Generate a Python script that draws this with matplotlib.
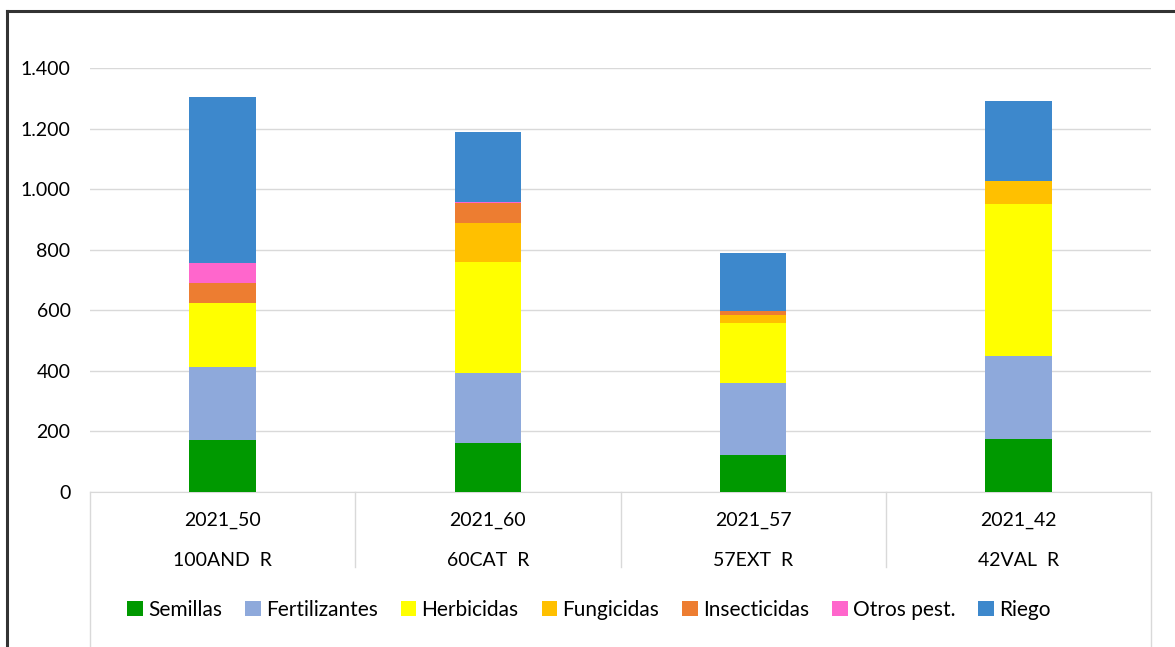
import matplotlib.pyplot as plt
import matplotlib.transforms as mtransforms
import numpy as np
from matplotlib.lines import Line2D
from matplotlib.ticker import FuncFormatter

plt.rcParams['font.family'] = ['Lato', 'DejaVu Sans']

# data
years = ["2021_50", "2021_60", "2021_57", "2021_42"]
regions = ["100AND  R", "60CAT  R", "57EXT  R", "42VAL  R"]
semillas = [172, 161, 122, 175]
fertilizantes = [240, 231, 239, 275]
herbicidas = [211, 368, 196, 501]
fungicidas = [0, 127, 27, 77]
insecticidas = [66, 66, 14, 0]
otros = [66, 5, 0, 0]
riego = [550, 232, 192, 264]

series = [
    ("Semillas", semillas, "#009900"),
    ("Fertilizantes", fertilizantes, "#8EA9DB"),
    ("Herbicidas", herbicidas, "#FFFF00"),
    ("Fungicidas", fungicidas, "#FFC000"),
    ("Insecticidas", insecticidas, "#ED7D31"),
    ("Otros pest.", otros, "#FF66CC"),
    ("Riego", riego, "#3D88CC"),
]

W, H = 1175, 647
fig = plt.figure(figsize=(W / 100, H / 100), dpi=100)
ax = fig.add_axes([90 / W, 1 - 492 / H, (1151 - 90) / W, (492 - 68) / H])

x = np.arange(len(years))
bottom = np.zeros(len(years))
for name, vals, col in series:
    ax.bar(x, vals, 0.25, bottom=bottom, color=col, label=name, zorder=3)
    bottom += np.array(vals)

ax.set_xlim(-0.5, 3.5)
ax.set_ylim(0, 1400)
ax.set_yticks(range(0, 1401, 200))
ax.yaxis.set_major_formatter(FuncFormatter(lambda v, p: f"{int(v):,}".replace(",", ".")))
ax.tick_params(axis='y', length=0, pad=14, labelsize=14)
ax.set_xticks([])
ax.grid(axis='y', color='#D9D9D9', lw=1, zorder=0)
for s in ["top", "right", "left"]:
    ax.spines[s].set_visible(False)
ax.spines["bottom"].set_color("#D9D9D9")

# category axis box
tr = mtransforms.blended_transform_factory(ax.transData, fig.transFigure)
for i, xs in enumerate(np.arange(-0.5, 4, 1)):
    y_end = 0 if i in (0, 4) else 1 - 567 / H
    ax.add_line(Line2D([xs, xs], [1 - 492 / H, y_end], transform=tr,
                       color='#D9D9D9', lw=1, clip_on=False))
for xi, yr, rg in zip(x, years, regions):
    ax.text(xi, 1 - 520 / H, yr, transform=tr, ha='center', va='center', fontsize=14)
    ax.text(xi, 1 - 560 / H, rg, transform=tr, ha='center', va='center', fontsize=14)

fig.legend(loc='center', bbox_to_anchor=(589 / W, 1 - 610 / H), ncol=7,
           frameon=False, fontsize=15, handlelength=0.75, handleheight=0.75,
           handletextpad=0.25, columnspacing=1.1)

# outer frame
fig.add_artist(Line2D([7 / W, 7 / W], [0, 1 - 11 / H], color='#333333', lw=2.2))
fig.add_artist(Line2D([7 / W, 1], [1 - 11 / H, 1 - 11 / H], color='#333333', lw=2.2))

fig.savefig("out.png", dpi=100)
